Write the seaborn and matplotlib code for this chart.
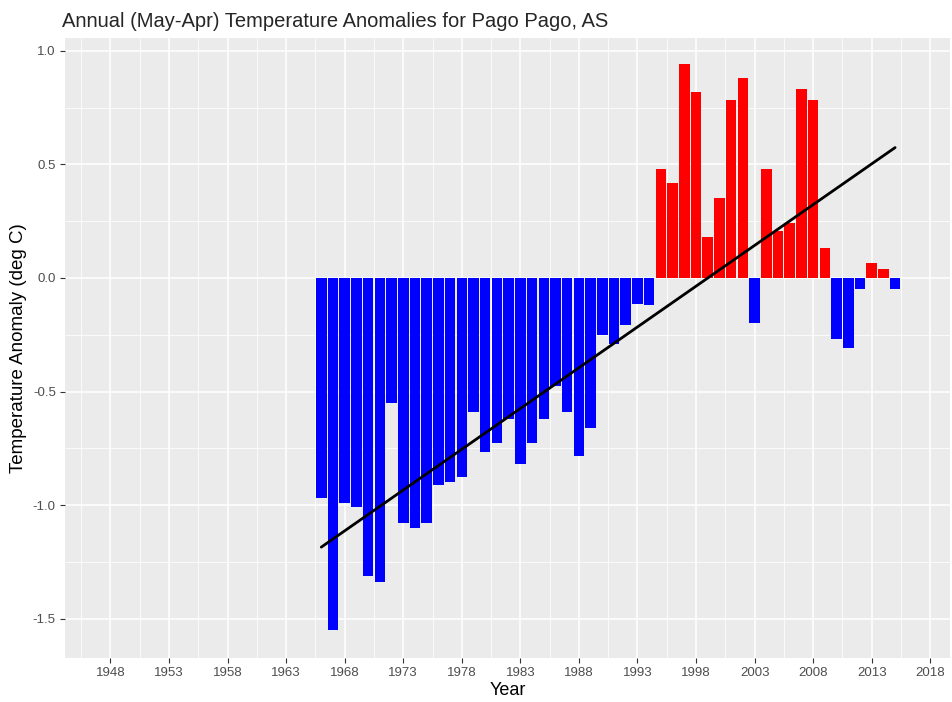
import numpy as np
import pandas as pd
import matplotlib
matplotlib.use("Agg")
import matplotlib.pyplot as plt
import seaborn as sns
from matplotlib.ticker import MultipleLocator, FixedLocator

# 데이터
years = list(range(1966, 2016))
anomaly = [
    -0.97, -1.55, -0.99, -1.01, -1.31, -1.34, -0.55, -1.08, -1.10, -1.08,
    -0.91, -0.90, -0.875, -0.59, -0.765, -0.725, -0.62, -0.82, -0.725, -0.62,
    -0.475, -0.59, -0.785, -0.66, -0.25, -0.29, -0.205, -0.115, -0.12, 0.48,
    0.42, 0.94, 0.82, 0.18, 0.35, 0.785, 0.88, -0.20, 0.48, 0.205,
    0.24, 0.83, 0.785, 0.13, -0.27, -0.31, -0.05, 0.065, 0.04, -0.047,
]
x_ticks = list(range(1948, 2019, 5))

df = pd.DataFrame({"Year": years, "Anomaly": anomaly})
df["sign"] = np.where(df["Anomaly"] >= 0, "pos", "neg")

sns.set_theme(style="darkgrid", rc={
    "axes.facecolor": "#EBEBEB",
    "grid.color": "white",
    "axes.edgecolor": "#EBEBEB",
})
plt.rcParams["font.family"] = ["Liberation Sans", "DejaVu Sans"]

fig = plt.figure(figsize=(9.53, 7.02), dpi=100)
ax = fig.add_axes([0.068, 0.063, 0.929, 0.883])

sns.barplot(data=df, x="Year", y="Anomaly", hue="sign",
            palette={"pos": "#FF0000", "neg": "#0000FF"}, saturation=1,
            native_scale=True, width=0.9, dodge=False, legend=False,
            edgecolor="none", ax=ax, zorder=2)
# 추세선 (선형 회귀)
sns.regplot(data=df, x="Year", y="Anomaly", scatter=False, ci=None,
            color="black", line_kws={"lw": 2, "zorder": 3}, ax=ax)

ax.set_xlim(1944.1, 2019.7)
ax.set_ylim(-1.672, 1.057)
ax.set_xticks(x_ticks)
ax.set_xticklabels([str(y) for y in x_ticks])
ax.xaxis.set_minor_locator(FixedLocator([t - 2.5 for t in x_ticks] + [x_ticks[-1] + 2.5]))
ax.yaxis.set_major_locator(MultipleLocator(0.5))
ax.yaxis.set_minor_locator(MultipleLocator(0.25))
ax.set_yticks([-1.5, -1.0, -0.5, 0.0, 0.5, 1.0])
ax.set_yticklabels(["-1.5", "-1.0", "-0.5", "0.0", "0.5", "1.0"])
ax.grid(which="major", color="white", lw=1.1)
ax.grid(which="minor", color="white", lw=0.55)
ax.set_axisbelow(True)
for s in ax.spines.values():
    s.set_visible(False)

ax.tick_params(axis="both", which="major", length=3.5, width=0.8,
               color="#333333", labelsize=9.5, labelcolor="#4D4D4D", pad=3,
               bottom=True, left=True)
ax.tick_params(axis="both", which="minor", length=0)

ax.set_xlabel("Year", fontsize=13, color="black", labelpad=2)
ax.set_ylabel("Temperature Anomaly (deg C)", fontsize=13.5, color="black", labelpad=4)
ax.set_title("Annual (May-Apr) Temperature Anomalies for Pago Pago, AS",
             fontsize=14.5, loc="left", x=-0.003, pad=8)

fig.savefig("out.png", dpi=100)
